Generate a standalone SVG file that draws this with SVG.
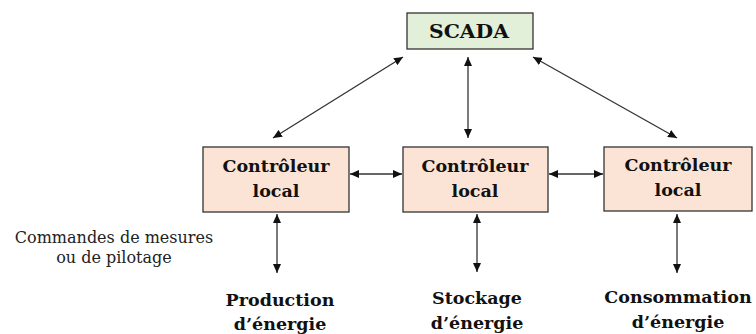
<svg xmlns="http://www.w3.org/2000/svg" width="756" height="334" viewBox="0 0 756 334">
  <style>
    .bold { font-family: "DejaVu Serif", "Liberation Serif", serif; font-weight: bold; font-size: 17.5px; fill: #111; text-anchor: middle; }
    .note { font-family: "DejaVu Serif", "Liberation Serif", serif; font-size: 16px; fill: #222; text-anchor: middle; }
    .scada { fill: #e2efd9; stroke: #333; stroke-width: 1.3; }
    .ctrl { fill: #fbe4d5; stroke: #333; stroke-width: 1.3; }
    .link { stroke: #333; stroke-width: 1.3; fill: none; marker-start: url(#head); marker-end: url(#head); }
  </style>
  <defs>
    <marker id="head" viewBox="0 0 10 10" refX="10" refY="5" markerWidth="9" markerHeight="8" orient="auto-start-reverse" markerUnits="userSpaceOnUse" preserveAspectRatio="none">
      <path d="M0,0 L10,5 L0,10 z" fill="#111"/>
    </marker>
  </defs>
  <rect width="756" height="334" fill="#fff"/>

  <g id="connectors">
    <line class="link" x1="403" y1="57" x2="273" y2="138"/>
    <line class="link" x1="468" y1="57" x2="468" y2="138"/>
    <line class="link" x1="533" y1="57" x2="677" y2="138"/>
    <line class="link" x1="350" y1="174" x2="402" y2="174"/>
    <line class="link" x1="549" y1="174" x2="603" y2="174"/>
    <line class="link" x1="277" y1="214" x2="277" y2="273"/>
    <line class="link" x1="477" y1="214" x2="477" y2="272"/>
    <line class="link" x1="677" y1="214" x2="677" y2="273"/>
  </g>

  <g id="scada">
    <rect class="scada" x="407" y="13" width="126" height="36"/>
    <text class="bold" x="469" y="38" style="font-size:19px" textLength="80" lengthAdjust="spacingAndGlyphs">SCADA</text>
  </g>

  <g id="ctrl-left">
    <rect class="ctrl" x="203" y="147" width="146" height="65"/>
    <text class="bold" x="276" y="172">Contrôleur</text>
    <text class="bold" x="276" y="197">local</text>
  </g>

  <g id="ctrl-middle">
    <rect class="ctrl" x="403" y="147" width="145" height="65"/>
    <text class="bold" x="475" y="172">Contrôleur</text>
    <text class="bold" x="475" y="197">local</text>
  </g>

  <g id="ctrl-right">
    <rect class="ctrl" x="604" y="147" width="148" height="64"/>
    <text class="bold" x="678" y="171">Contrôleur</text>
    <text class="bold" x="678" y="196">local</text>
  </g>

  <g id="note">
    <text class="note" x="114" y="243">Commandes de mesures</text>
    <text class="note" x="114" y="263">ou de pilotage</text>
  </g>

  <g id="production">
    <text class="bold" x="280" y="306">Production</text>
    <text class="bold" x="280" y="330">d’énergie</text>
  </g>

  <g id="stockage">
    <text class="bold" x="477" y="304">Stockage</text>
    <text class="bold" x="477" y="329">d’énergie</text>
  </g>

  <g id="consommation">
    <text class="bold" x="678" y="303">Consommation</text>
    <text class="bold" x="678" y="328">d’énergie</text>
  </g>
</svg>
